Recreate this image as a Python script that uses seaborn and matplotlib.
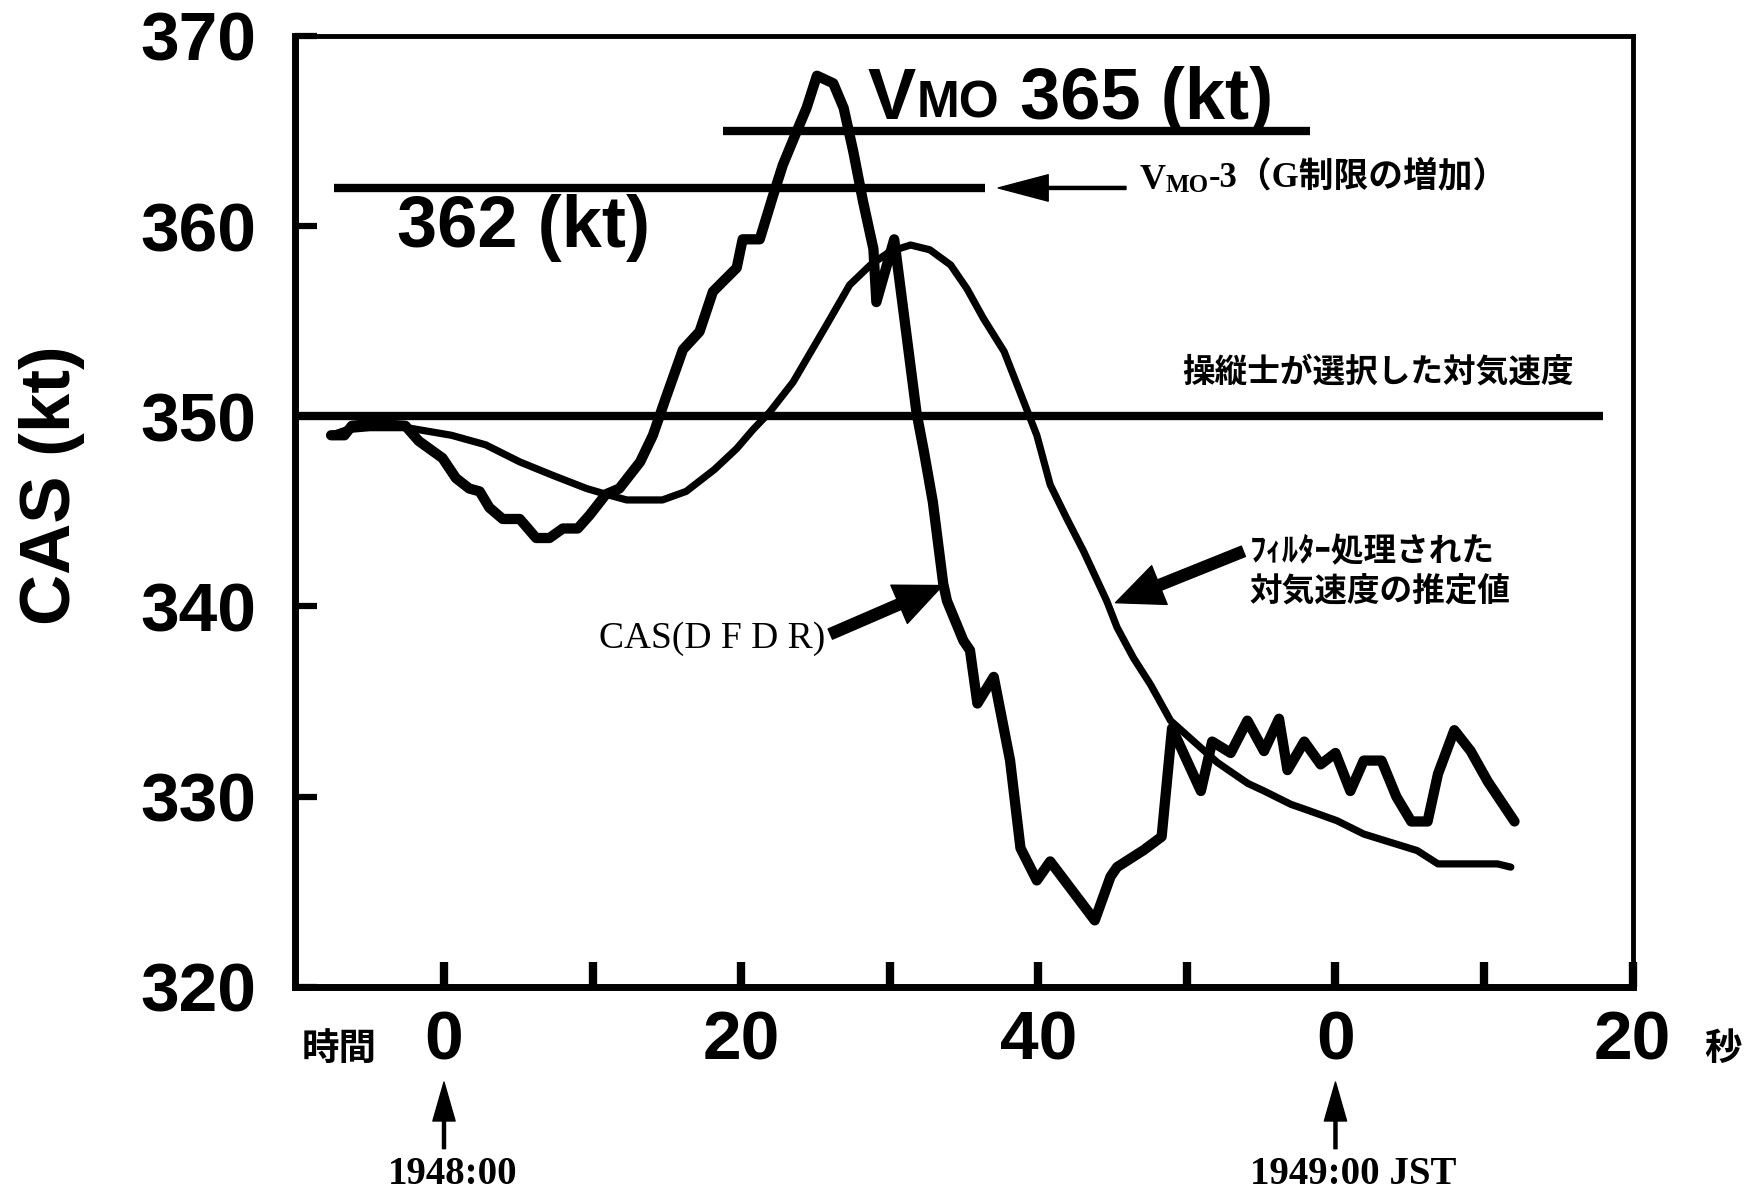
import matplotlib
matplotlib.use("Agg")
import matplotlib.pyplot as plt
import pandas as pd
import seaborn as sns

# Time axis: seconds after 19:48:00 JST
dfdr_t = [-7.6, -6.7, -6.2, -4.8, -2.6, -1.7, -0.1, 0.8, 1.7, 2.4, 3.05, 3.95, 5.1, 6.2,
          7.1, 8.0, 9.0, 9.8, 10.9, 11.8, 13.2, 14.06, 14.9, 16.08, 17.2, 18.1, 18.8,
          19.7, 20.1, 21.25, 22.15, 22.8, 23.7, 24.4, 25.1, 26.2, 26.9, 27.55, 28.2,
          28.9, 29.1, 30.3, 31.8, 32.3, 32.9, 33.6, 33.85, 34.96, 35.4, 35.9, 37.0,
          38.1, 38.8, 39.9, 40.8, 43.8, 44.86, 45.3, 47.1, 48.3, 49.0, 50.94, 51.7,
          52.95, 54.07, 55.19, 56.2, 56.77, 57.9, 59.0, 60.0, 61.0, 61.9, 63.1, 64.1,
          65.1, 66.2, 66.9, 68.0, 69.1, 70.25, 72.05]
dfdr_cas = [349.0, 349.0, 349.5, 349.6, 349.5, 348.7, 347.8, 346.75, 346.2, 346.05, 345.2,
            344.6, 344.6, 343.6, 343.6, 344.1, 344.1, 344.8, 345.9, 346.2, 347.6, 349.0,
            350.9, 353.5, 354.45, 356.55, 357.1, 357.8, 359.3, 359.3, 361.6, 363.2, 364.9,
            366.2, 367.9, 367.5, 366.2, 363.9, 361.3, 358.8, 356.0, 359.3, 350.2, 348.15,
            345.5, 341.2, 340.3, 338.2, 337.7, 334.9, 336.3, 331.9, 327.3, 325.6, 326.6,
            323.5, 325.8, 326.3, 327.2, 327.9, 333.6, 330.3, 332.9, 332.3, 334.0, 332.4,
            334.1, 331.4, 332.9, 331.7, 332.3, 330.3, 331.9, 331.9, 330.0, 328.7, 328.7,
            331.2, 333.5, 332.4, 330.8, 328.7]

filt_t = [-7.6, -6.5, -5.0, -2.5, 0.5, 2.8, 5.1, 7.3, 9.6, 10.9, 12.3, 14.7, 16.3, 18.2,
          19.7, 20.8, 21.9, 23.5, 25.75, 27.3, 28.7, 30.0, 31.4, 32.7, 34.1, 35.2, 36.3,
          37.7, 39.0, 39.9, 40.8, 41.9, 43.05, 44.6, 45.3, 46.4, 47.55, 48.9, 50.9,
          52.05, 54.1, 55.2, 57.0, 58.1, 60.1, 61.9, 63.3, 65.5, 66.9, 70.9, 71.8]
filt_cas = [349.0, 349.3, 349.4, 349.4, 349.0, 348.5, 347.6, 346.9, 346.2, 345.9, 345.6,
            345.6, 346.05, 347.2, 348.3, 349.3, 350.2, 351.8, 354.8, 356.9, 357.95,
            358.65, 359.0, 358.75, 357.95, 356.7, 355.15, 353.4, 350.8, 349.0, 346.4,
            344.65, 342.9, 340.3, 338.9, 337.3, 335.9, 334.0, 332.6, 331.8, 330.7, 330.3,
            329.6, 329.3, 328.74, 328.04, 327.7, 327.17, 326.47, 326.47, 326.3]

# Reference speeds (kt) and the span of each reference line (s)
vmo = 365
vmo_span = (18.8, 58.3)
vmo_minus3 = 362
vmo_minus3_span = (-7.4, 36.4)
selected_cas = 350
selected_span = (-10.0, 78.0)

x_ticks = [0, 10, 20, 30, 40, 50, 60, 70, 80]
x_tick_labels = ["0", "", "20", "", "40", "", "0", "", "20"]
y_ticks = [320, 330, 340, 350, 360, 370]
y_tick_labels = ["320", "330", "340", "350", "360", "370"]

sans = ["Liberation Sans", "DejaVu Sans"]
jp = ["Noto Sans CJK JP", "DejaVu Sans"]
serif_jp = ["Liberation Serif", "Noto Sans CJK JP"]

sns.set_theme(style="white")
plt.rcParams["font.family"] = sans
for key in ["text.color", "axes.labelcolor", "xtick.color", "ytick.color",
            "axes.edgecolor"]:
    plt.rcParams[key] = "black"

fig = plt.figure(figsize=(17.48, 11.92), dpi=100)
ax = fig.add_axes([0.169, 0.172, 0.765, 0.798])

dfdr = pd.DataFrame({"t": dfdr_t, "cas": dfdr_cas})
filt = pd.DataFrame({"t": filt_t, "cas": filt_cas})
sns.lineplot(data=dfdr, x="t", y="cas", ax=ax, color="black", linewidth=7.4,
             sort=False, estimator=None)
sns.lineplot(data=filt, x="t", y="cas", ax=ax, color="black", linewidth=5.2,
             sort=False, estimator=None)

ax.hlines(selected_cas, *selected_span, color="black", linewidth=6)
ax.hlines(vmo_minus3, *vmo_minus3_span, color="black", linewidth=6)
ax.hlines(vmo, *vmo_span, color="black", linewidth=6)

ax.set_xlim(-10, 80)
ax.set_ylim(320, 370)
ax.set_xticks(x_ticks)
ax.set_xticklabels(x_tick_labels)
ax.set_yticks(y_ticks)
ax.set_yticklabels(y_tick_labels)
ax.tick_params(axis="x", direction="in", length=18, width=6, color="black",
               labelcolor="black", pad=16, labelsize=50, bottom=True, top=False)
ax.tick_params(axis="y", direction="in", length=16, width=4.5, color="black",
               labelcolor="black", pad=28, labelsize=50, left=True, right=False)
for lab in ax.get_xticklabels() + ax.get_yticklabels():
    lab.set_fontweight("bold")
    lab.set_family(sans)
ax.set_xlabel("")
ax.set_ylabel("CAS (kt)", fontsize=51, fontweight="bold", va="center", ha="center",
              color="black")
ax.yaxis.set_label_coords(-0.182, 0.527)

for side in ["left", "bottom"]:
    ax.spines[side].set_linewidth(5)
for side in ["top", "right"]:
    ax.spines[side].set_linewidth(3.5)
for side in ax.spines:
    ax.spines[side].set_color("black")
    ax.spines[side].set_visible(True)

# Limit labels: "V" with small-capital "MO" on the same baseline
t_v = ax.text(28.5, 365.6, "V", fontsize=52, fontweight="bold", family=sans,
              ha="left", va="baseline")
t_mo = ax.annotate("MO", xy=(1, 0), xycoords=t_v, fontsize=37, fontweight="bold",
                   family=sans, ha="left", va="bottom", xytext=(1, 4.2),
                   textcoords="offset points")
ax.annotate(" 365 (kt)", xy=(1, 0), xycoords=(t_mo, t_v), fontsize=52,
            fontweight="bold", family=sans, ha="left", va="bottom")
ax.text(-3.16, 358.9, "362 (kt)", fontsize=52, fontweight="bold", family=sans,
        ha="left", va="baseline")

# VMO-3 annotation with arrow
ax.annotate("", xy=(37.3, vmo_minus3), xytext=(45.9, vmo_minus3),
            arrowprops=dict(width=2.2, headwidth=19, headlength=36,
                            facecolor="black", edgecolor="black", shrink=0))
s_v = ax.text(46.8, 362.4, "V", fontsize=26, fontweight="bold", family=serif_jp,
              ha="left", va="center")
s_mo = ax.annotate("MO", xy=(1, 0), xycoords=s_v, fontsize=18, fontweight="bold",
                   family=serif_jp, ha="left", va="bottom", xytext=(0, 0),
                   textcoords="offset points")
ax.annotate("-3（G制限の増加）", xy=(1, 0), xycoords=s_mo, fontsize=25,
            fontweight="bold", family=serif_jp, ha="left", va="bottom",
            xytext=(0, 2), textcoords="offset points")

ax.text(49.7, 352.3, "操縦士が選択した対気速度", fontsize=23.5, fontweight="bold",
        family=jp, ha="left", va="center")

# Curve labels with arrows
ax.annotate("", xy=(33.55, 341.1), xytext=(26.0, 338.55),
            arrowprops=dict(width=8, headwidth=30, headlength=34,
                            facecolor="black", edgecolor="black", shrink=0))
ax.text(10.4, 338.3, "CAS(D F D R)", fontsize=27, family=serif_jp,
        ha="left", va="center")

ax.annotate("", xy=(45.2, 340.2), xytext=(53.8, 342.9),
            arrowprops=dict(width=8, headwidth=30, headlength=34,
                            facecolor="black", edgecolor="black", shrink=0))
ax.text(54.2, 342.9, "ﾌｨﾙﾀｰ処理された", fontsize=23.5, fontweight="bold",
        family=jp, ha="left", va="center")
ax.text(54.2, 340.75, "対気速度の推定値", fontsize=23.5, fontweight="bold",
        family=jp, ha="left", va="center")

# Time axis captions below the frame
xt = ax.get_xaxis_transform()
ax.text(-7.07, -0.0646, "時間", transform=xt, fontsize=27, fontweight="bold",
        family=jp, ha="center", va="center")
ax.text(86.1, -0.0646, "秒", transform=xt, fontsize=27, fontweight="bold",
        family=jp, ha="center", va="center")
for t0 in [0, 60]:
    ax.annotate("", xy=(t0, -0.100), xytext=(t0, -0.170), xycoords=xt, textcoords=xt,
                arrowprops=dict(width=2.2, headwidth=16, headlength=28,
                                facecolor="black", edgecolor="black", shrink=0),
                annotation_clip=False)
ax.text(0.6, -0.197, "1948:00", transform=xt, fontsize=28, fontweight="bold",
        family=serif_jp, ha="center", va="center")
ax.text(61.2, -0.197, "1949:00 JST", transform=xt, fontsize=28, fontweight="bold",
        family=serif_jp, ha="center", va="center")

fig.savefig("out.png", dpi=100, facecolor="white")
